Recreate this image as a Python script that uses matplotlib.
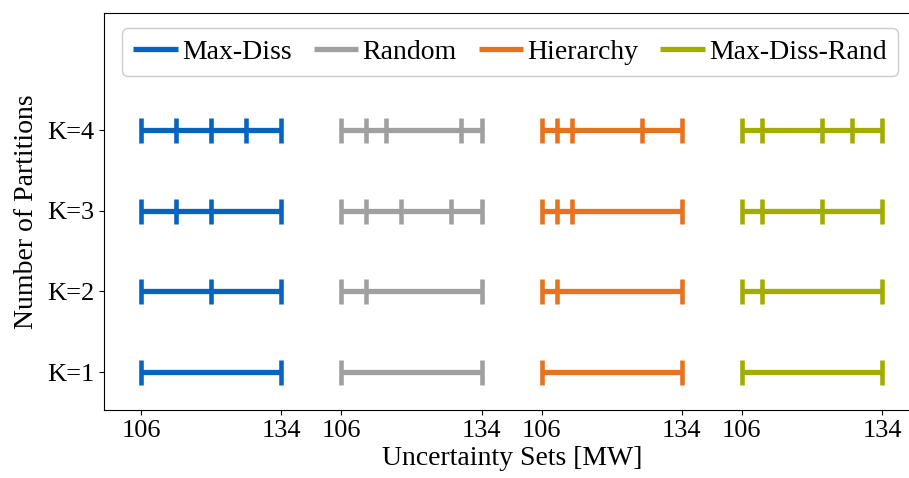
import matplotlib.pyplot as plt

plt.rcParams['font.family'] = ['Liberation Serif', 'DejaVu Serif']

# data
methods = ['Max-Diss', 'Random', 'Hierarchy', 'Max-Diss-Rand']
colors = ['#0563c1', '#a0a0a0', '#e8731f', '#a2ad00']
k_labels = ['K=1', 'K=2', 'K=3', 'K=4']

# partition boundaries [MW] per method, per K (K=1..4)
bounds = {
    'Max-Diss': [[106, 134], [106, 120, 134], [106, 113, 120, 134], [106, 113, 120, 127, 134]],
    'Random': [[106, 134], [106, 111, 134], [106, 111, 118, 128, 134], [106, 111, 115, 130, 134]],
    'Hierarchy': [[106, 134], [106, 109, 134], [106, 109, 112, 134], [106, 109, 112, 126, 134]],
    'Max-Diss-Rand': [[106, 134], [106, 110, 134], [106, 110, 122, 134], [106, 110, 122, 128, 134]],
}
lo, hi = 106, 134
shift = 40  # offset between groups on the x axis

fig = plt.figure(figsize=(9.09, 4.78), dpi=100)
ax = fig.add_axes([104 / 909, 1 - 410 / 478, (920 - 104) / 909, 397 / 478])

for g, m in enumerate(methods):
    off = g * shift
    for k, b in enumerate(bounds[m]):
        y = k + 1
        xs = [v + off for v in b]
        ax.plot([xs[0], xs[-1]], [y, y], color=colors[g], lw=3.8,
                solid_capstyle='butt', label=m if k == 0 else None)
        ax.plot(xs, [y] * len(xs), ls='none', marker='|', ms=18,
                mew=3.3, color=colors[g])

ticks = []
tlabels = []
for g in range(len(methods)):
    ticks += [lo + g * shift, hi + g * shift]
    tlabels += [str(lo), str(hi)]
ax.set_xticks(ticks)
ax.set_xticklabels(tlabels)
ax.set_yticks([1, 2, 3, 4])
ax.set_yticklabels(k_labels)
# axes run a bit past the right edge of the figure
ax.set_xlim(98.6, 98.6 + (920 - 104) / 5.007)
ax.set_ylim(0.53, 5.45)
ax.tick_params(labelsize=19)
ax.spines['right'].set_visible(False)

ax.set_xlabel('Uncertainty Sets [MW]', fontsize=20, labelpad=3)
ax.set_ylabel('Number of Partitions', fontsize=20, labelpad=6)

ax.legend(loc='upper left', ncol=4, fontsize=20,
          bbox_to_anchor=((122 - 104) / (920 - 104), 1 - 15 / 397),
          borderaxespad=0,
          handlelength=1.6, handletextpad=0.15, columnspacing=0.8,
          borderpad=0.4, framealpha=1)

plt.savefig('out.png', dpi=100)
